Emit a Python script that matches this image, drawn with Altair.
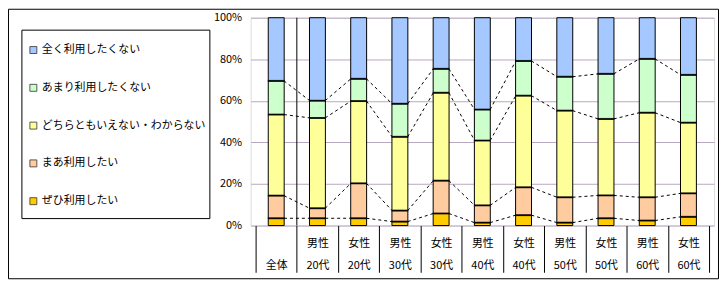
import json
import altair as alt
import pandas as pd

# ---- data ----
gender = ["", "男性", "女性", "男性", "女性", "男性", "女性", "男性", "女性", "男性", "女性"]
age = ["全体", "20代", "20代", "30代", "30代", "40代", "40代", "50代", "50代", "60代", "60代"]

segments = ["ぜひ利用したい", "まあ利用したい", "どちらともいえない・わからない",
            "あまり利用したくない", "全く利用したくない"]
colors = ["#ffcc00", "#ffcca0", "#ffff99", "#ccffcc", "#a4c8ff"]

zehi = [3.5, 3.5, 3.5, 1.9, 5.8, 1.4, 5.0, 1.4, 3.5, 2.4, 4.2]
maa = [10.9, 4.8, 16.8, 5.3, 15.8, 8.3, 13.4, 12.2, 11.0, 11.2, 11.3]
dochira = [39.0, 43.5, 39.6, 35.5, 42.3, 31.2, 44.1, 41.7, 36.8, 40.7, 34.0]
amari = [16.2, 8.3, 10.7, 15.9, 11.5, 14.9, 16.7, 16.3, 21.7, 25.9, 23.0]
mattaku = [30.4, 39.9, 29.4, 41.4, 24.6, 44.2, 20.8, 28.4, 27.0, 19.8, 27.5]

series = [zehi, maa, dochira, amari, mattaku]
n = len(age)

# cumulative boundaries
cum = [[0.0] * n]
for s in series:
    cum.append([c + v for c, v in zip(cum[-1], s)])

rows = []
for k, seg in enumerate(segments):
    for i in range(n):
        rows.append(dict(pos=i + 0.5, seg=seg,
                         y0=cum[k][i] / 100, y1=min(cum[k + 1][i], 100) / 100))
bars_df = pd.DataFrame(rows)

tick_rows = []
for k in range(1, len(segments)):
    for i in range(n):
        tick_rows.append(dict(pos=i + 0.5, y=cum[k][i] / 100))
ticks_df = pd.DataFrame(tick_rows)

BAR_PX = 16
W, H = 466, 209
half = (BAR_PX / 2) / (W / n)
conn_rows = []
for k in range(1, len(segments)):
    for i in range(n - 1):
        conn_rows.append(dict(x=i + 0.5 + half, x2=i + 1.5 - half,
                              y=cum[k][i] / 100, y2=cum[k][i + 1] / 100))
conn_df = pd.DataFrame(conn_rows)

sep_df = pd.DataFrame([dict(pos=1, y=0.0, y2=1.0)])

labels = [f"{g if g else ' '}|{a}" for g, a in zip(gender, age)]
label_expr = ("split(" + json.dumps(labels, ensure_ascii=False)
              + "[round(datum.value - 0.5)], '|')")

FONT = "Noto Sans CJK JP"

xscale = alt.Scale(domain=[0, n], nice=False, zero=False)
yscale = alt.Scale(domain=[0, 1], nice=False)

label_axis = alt.Axis(values=[i + 0.5 for i in range(n)], ticks=False, domain=False,
                      grid=False, title=None, orient="bottom", labelExpr=label_expr,
                      labelFontSize=11, labelFont=FONT, labelColor="black",
                      labelBaseline="top", labelLineHeight=22, labelPadding=12,
                      labelAlign="center")
tick_axis = alt.Axis(values=list(range(n + 1)), ticks=True, tickSize=47,
                     tickColor="black", tickWidth=1, labels=False, domain=False,
                     grid=False, title=None, orient="bottom")
yaxis = alt.Axis(values=[0, 0.2, 0.4, 0.6, 0.8, 1.0], format=".0%", ticks=False,
                 domain=False, grid=True, gridColor="#b8a8c0", gridWidth=1,
                 title=None, labelFontSize=11, labelFont=FONT, labelColor="black",
                 labelPadding=9, orient="left")

color_order = segments[::-1]
color_range = colors[::-1]

bars = alt.Chart(bars_df).mark_bar(size=BAR_PX, stroke="black", strokeWidth=1).encode(
    x=alt.X("pos:Q", scale=xscale, axis=label_axis),
    y=alt.Y("y0:Q", scale=yscale, axis=yaxis),
    y2="y1:Q",
    color=alt.Color("seg:N", scale=alt.Scale(domain=color_order, range=color_range),
                    sort=color_order,
                    legend=alt.Legend(orient="none", legendX=-224, legendY=27, title=None,
                                      padding=0, symbolType="square", symbolSize=49,
                                      symbolStrokeColor="#333", symbolStrokeWidth=0.8,
                                      labelFontSize=11, labelFont=FONT, labelColor="black",
                                      labelOffset=3, labelLimit=400, rowPadding=26)),
)

bounds = alt.Chart(ticks_df).mark_tick(orient="horizontal", thickness=2, size=BAR_PX + 1,
                                       color="black").encode(
    x=alt.X("pos:Q", scale=xscale, axis=None),
    y=alt.Y("y:Q", scale=yscale, axis=None),
)

conns = alt.Chart(conn_df).mark_rule(color="black", strokeWidth=1, strokeDash=[3, 3]).encode(
    x=alt.X("x:Q", scale=xscale, axis=None),
    x2="x2:Q",
    y=alt.Y("y:Q", scale=yscale, axis=None),
    y2="y2:Q",
)

sep = alt.Chart(sep_df).mark_rule(color="black", strokeWidth=1).encode(
    x=alt.X("pos:Q", scale=xscale, axis=tick_axis),
    y=alt.Y("y:Q", scale=yscale, axis=None),
    y2="y2:Q",
)

deco_df = pd.DataFrame([{"k": 1}])
frame = alt.Chart(deco_df).mark_rect(fillOpacity=0, stroke="black", strokeWidth=1).encode(
    x=alt.value(-243.5), x2=alt.value(470.5), y=alt.value(-8.5), y2=alt.value(262.5)
)
legend_box = alt.Chart(deco_df).mark_rect(fillOpacity=0, stroke="black", strokeWidth=1).encode(
    x=alt.value(-230), x2=alt.value(-41), y=alt.value(12.5), y2=alt.value(202)
)

chart = alt.layer(conns, bars, bounds, sep, frame, legend_box).resolve_axis(
    x="independent", y="independent"
).properties(
    width=W, height=H,
    autosize=alt.AutoSizeParams(type="none"),
    padding={"left": 244, "top": 9, "right": 6, "bottom": 55},
    background="white",
).configure_view(stroke="black", strokeWidth=1).configure(font=FONT)

chart.save("out.html", embed_options={"renderer": "svg", "actions": False})
